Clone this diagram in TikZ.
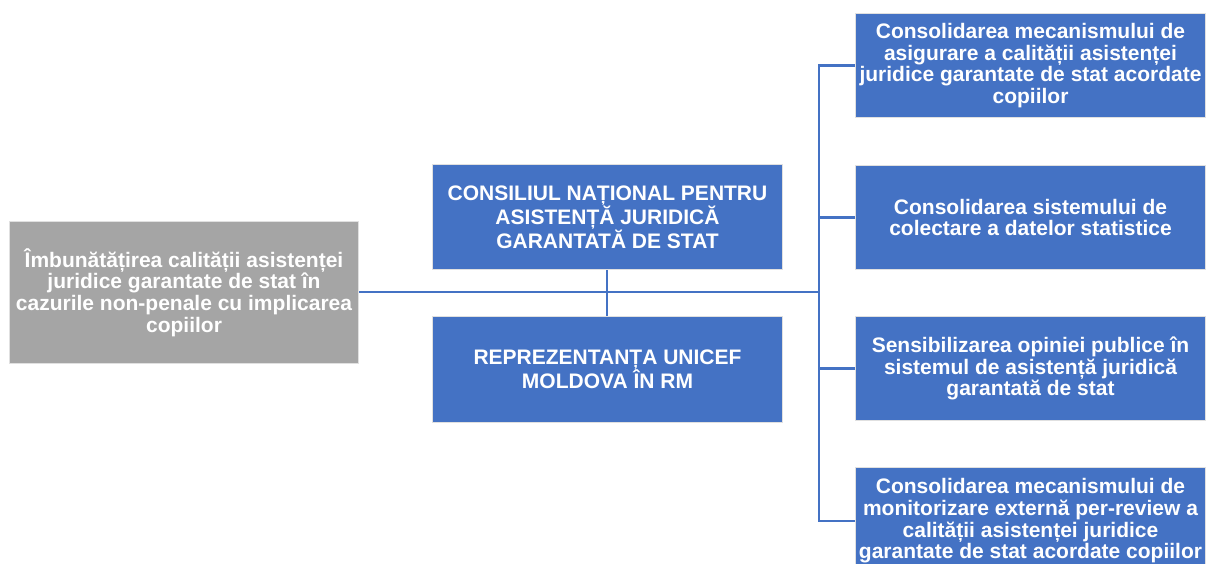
\documentclass[tikz,border=0pt]{standalone}
\usepackage{fontspec}
\setmainfont{Liberation Sans}
\begin{document}
\begin{tikzpicture}[x=1pt,y=-1pt,
  box/.style={draw=black!12,line width=1pt,fill=#1,text=white,font=\bfseries\fontsize{21}{21.7}\selectfont,align=center,inner sep=0pt,anchor=north west},
  conn/.style={draw=blueA,line width=2.2pt}]
\definecolor{blueA}{HTML}{4472C4}
\definecolor{grayA}{HTML}{A5A5A5}
\useasboundingbox (0,0) rectangle (1206,564);
\node[box=grayA,minimum width=349pt,minimum height=142pt] (goal) at (9,221) {Îmbunătățirea calității asistenței\\juridice garantate de stat în\\cazurile non-penale cu implicarea\\copiilor};
\node[box=blueA,minimum width=350pt,minimum height=105pt] (cn) at (432,164) {CONSILIUL NAȚIONAL PENTRU\\ASISTENȚĂ JURIDICĂ\\GARANTATĂ DE STAT};
\node[box=blueA,minimum width=350pt,minimum height=106pt] (un) at (432,316) {REPREZENTANȚA UNICEF\\MOLDOVA ÎN RM};
\node[box=blueA,minimum width=350pt,minimum height=104pt] (r1) at (855,13) {Consolidarea mecanismului de\\asigurare a calității asistenței\\juridice garantate de stat acordate\\copiilor};
\node[box=blueA,minimum width=350pt,minimum height=104pt] (r2) at (855,165) {Consolidarea sistemului de\\colectare a datelor statistice};
\node[box=blueA,minimum width=350pt,minimum height=104pt] (r3) at (855,316) {Sensibilizarea opiniei publice în\\sistemul de asistență juridică\\garantată de stat};
\node[box=blueA,minimum width=350pt,minimum height=107pt] (r4) at (855,467) {Consolidarea mecanismului de\\monitorizare externă per-review a\\calității asistenței juridice\\garantate de stat acordate copiilor};
\coordinate (trunk) at (819,292);
\coordinate (mid) at (607,292);
\draw[conn] (goal.east |- trunk) -- (trunk);
\draw[conn] (cn.south -| mid) -- (un.north -| mid);
\draw[conn] (r1.west) -| (trunk);
\draw[conn] (r4.west) -| (trunk);
\draw[conn] (r2.west) -- (r2.west -| trunk);
\draw[conn] (r3.west) -- (r3.west -| trunk);
\end{tikzpicture}
\end{document}
